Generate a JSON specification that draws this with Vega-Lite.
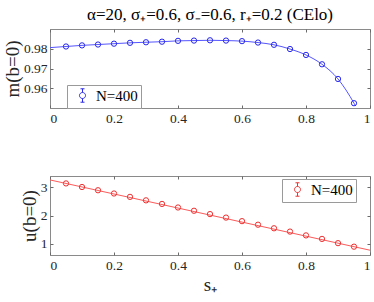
{
  "$schema": "https://vega.github.io/schema/vega-lite/v6.json",
  "background": "white",
  "padding": {"left": 2, "top": 5, "right": 3, "bottom": 3},
  "bounds": "flush",
  "spacing": 68,
  "config": {
    "view": {"stroke": "#8a8a8a", "strokeWidth": 1},
    "axis": {
      "labelFont": "Liberation Serif", "labelFontSize": 13.5, "labelColor": "#262626",
      "titleFont": "Liberation Serif", "titleFontSize": 19, "titleFontWeight": "normal", "titleColor": "#262626",
      "domain": false, "grid": false, "tickColor": "#6a6a6a", "tickSize": -3, "labelPadding": 6
    },
    "title": {"font": "Liberation Serif", "fontSize": 17, "fontWeight": "normal", "color": "#000000", "offset": 5},
    "legend": {
      "orient": "none", "title": null, "strokeColor": "#9a9a9a", "fillColor": "white", "padding": 3,
      "labelFont": "Liberation Serif", "labelFontSize": 15, "labelColor": "#000000",
      "symbolType": "M-0.45,0A0.45,0.45,0,1,1,0.45,0A0.45,0.45,0,1,1,-0.45,0M0,-1L0,-0.45M0,0.45L0,1M-0.3,-1L0.3,-1M-0.3,1L0.3,1",
      "symbolSize": 180, "symbolStrokeWidth": 1, "symbolFillColor": "transparent", "symbolOffset": 5, "labelOffset": 6
    }
  },
  "datasets": {
    "m": [
      {"s": 0.05, "m": 0.98114, "series": "N=400"}, {"s": 0.10, "m": 0.98171, "series": "N=400"},
      {"s": 0.15, "m": 0.98214, "series": "N=400"}, {"s": 0.20, "m": 0.98257, "series": "N=400"},
      {"s": 0.25, "m": 0.98300, "series": "N=400"}, {"s": 0.30, "m": 0.98329, "series": "N=400"},
      {"s": 0.35, "m": 0.98357, "series": "N=400"}, {"s": 0.40, "m": 0.98400, "series": "N=400"},
      {"s": 0.45, "m": 0.98414, "series": "N=400"}, {"s": 0.50, "m": 0.98429, "series": "N=400"},
      {"s": 0.55, "m": 0.98414, "series": "N=400"}, {"s": 0.60, "m": 0.98386, "series": "N=400"},
      {"s": 0.65, "m": 0.98314, "series": "N=400"}, {"s": 0.70, "m": 0.98200, "series": "N=400"},
      {"s": 0.75, "m": 0.97986, "series": "N=400"}, {"s": 0.80, "m": 0.97686, "series": "N=400"},
      {"s": 0.85, "m": 0.97214, "series": "N=400"}, {"s": 0.90, "m": 0.96471, "series": "N=400"},
      {"s": 0.95, "m": 0.95243, "series": "N=400"}
    ],
    "mfit": [
      {"s": 0.0, "m": 0.98057}, {"s": 0.05, "m": 0.98114}, {"s": 0.10, "m": 0.98171},
      {"s": 0.15, "m": 0.98214}, {"s": 0.20, "m": 0.98257}, {"s": 0.25, "m": 0.98300},
      {"s": 0.30, "m": 0.98329}, {"s": 0.35, "m": 0.98357}, {"s": 0.40, "m": 0.98400},
      {"s": 0.45, "m": 0.98414}, {"s": 0.50, "m": 0.98429}, {"s": 0.55, "m": 0.98414},
      {"s": 0.60, "m": 0.98386}, {"s": 0.65, "m": 0.98314}, {"s": 0.70, "m": 0.98200},
      {"s": 0.75, "m": 0.97986}, {"s": 0.80, "m": 0.97686}, {"s": 0.85, "m": 0.97214},
      {"s": 0.90, "m": 0.96471}, {"s": 0.95, "m": 0.95243}, {"s": 0.955, "m": 0.9510}
    ],
    "u": [
      {"s": 0.05, "u": 3.137, "series": "N=400"}, {"s": 0.10, "u": 3.010, "series": "N=400"},
      {"s": 0.15, "u": 2.895, "series": "N=400"}, {"s": 0.20, "u": 2.780, "series": "N=400"},
      {"s": 0.25, "u": 2.660, "series": "N=400"}, {"s": 0.30, "u": 2.537, "series": "N=400"},
      {"s": 0.35, "u": 2.410, "series": "N=400"}, {"s": 0.40, "u": 2.284, "series": "N=400"},
      {"s": 0.45, "u": 2.168, "series": "N=400"}, {"s": 0.50, "u": 2.050, "series": "N=400"},
      {"s": 0.55, "u": 1.926, "series": "N=400"}, {"s": 0.60, "u": 1.800, "series": "N=400"},
      {"s": 0.65, "u": 1.674, "series": "N=400"}, {"s": 0.70, "u": 1.547, "series": "N=400"},
      {"s": 0.75, "u": 1.430, "series": "N=400"}, {"s": 0.80, "u": 1.295, "series": "N=400"},
      {"s": 0.85, "u": 1.170, "series": "N=400"}, {"s": 0.90, "u": 1.020, "series": "N=400"},
      {"s": 0.95, "u": 0.895, "series": "N=400"}
    ],
    "ufit": [
      {"s": 0.0, "u": 3.26}, {"s": 1.0, "u": 0.77}
    ]
  },
  "resolve": {"scale": {"color": "independent"}},
  "vconcat": [
    {
      "width": 320, "height": 79,
      "title": {"text": "α=20, σ₊=0.6, σ₋=0.6, r₊=0.2 (CElo)"},
      "resolve": {"axis": {"x": "independent", "y": "independent"}},
      "layer": [
        {
          "data": {"name": "mfit"},
          "mark": {"type": "line", "color": "#5555ff", "strokeWidth": 1, "interpolate": "monotone", "clip": true},
          "encoding": {
            "x": {"field": "s", "type": "quantitative", "scale": {"domain": [0, 1]},
                  "axis": {"title": null, "values": [0, 0.2, 0.4, 0.6, 0.8, 1], "labelExpr": "format(datum.value, '~g')"}},
            "y": {"field": "m", "type": "quantitative", "scale": {"domain": [0.9517, 0.9854], "zero": false},
                  "axis": {"title": "m(b=0)", "values": [0.96, 0.97, 0.98], "titlePadding": 1}}
          }
        },
        {
          "data": {"name": "m"},
          "mark": {"type": "point", "shape": "circle", "filled": false, "size": 28, "strokeWidth": 1, "opacity": 1},
          "encoding": {
            "x": {"field": "s", "type": "quantitative",
                  "axis": {"orient": "top", "title": null, "labels": false, "values": [0, 0.2, 0.4, 0.6, 0.8, 1]}},
            "y": {"field": "m", "type": "quantitative",
                  "axis": {"orient": "right", "title": null, "labels": false, "values": [0.96, 0.97, 0.98]}},
            "color": {"field": "series", "type": "nominal", "scale": {"range": ["#2a2aee"]},
                      "legend": {"legendX": 17, "legendY": 56}}
          }
        }
      ]
    },
    {
      "width": 320, "height": 79,
      "resolve": {"axis": {"x": "independent", "y": "independent"}},
      "layer": [
        {
          "data": {"name": "ufit"},
          "mark": {"type": "line", "color": "#ff5a5a", "strokeWidth": 1, "clip": true},
          "encoding": {
            "x": {"field": "s", "type": "quantitative", "scale": {"domain": [0, 1]},
                  "axis": {"title": "s₊", "values": [0, 0.2, 0.4, 0.6, 0.8, 1], "labelExpr": "format(datum.value, '~g')", "titlePadding": 4}},
            "y": {"field": "u", "type": "quantitative", "scale": {"domain": [0.77, 3.26], "zero": false},
                  "axis": {"title": "u(b=0)", "values": [1, 2, 3], "titlePadding": 1}}
          }
        },
        {
          "data": {"name": "u"},
          "mark": {"type": "point", "shape": "circle", "filled": false, "size": 28, "strokeWidth": 1, "opacity": 1},
          "encoding": {
            "x": {"field": "s", "type": "quantitative",
                  "axis": {"orient": "top", "title": null, "labels": false, "values": [0, 0.2, 0.4, 0.6, 0.8, 1]}},
            "y": {"field": "u", "type": "quantitative",
                  "axis": {"orient": "right", "title": null, "labels": false, "values": [1, 2, 3]}},
            "color": {"field": "series", "type": "nominal", "scale": {"range": ["#ee3333"]},
                      "legend": {"legendX": 232, "legendY": 3}}
          }
        }
      ]
    }
  ]
}
